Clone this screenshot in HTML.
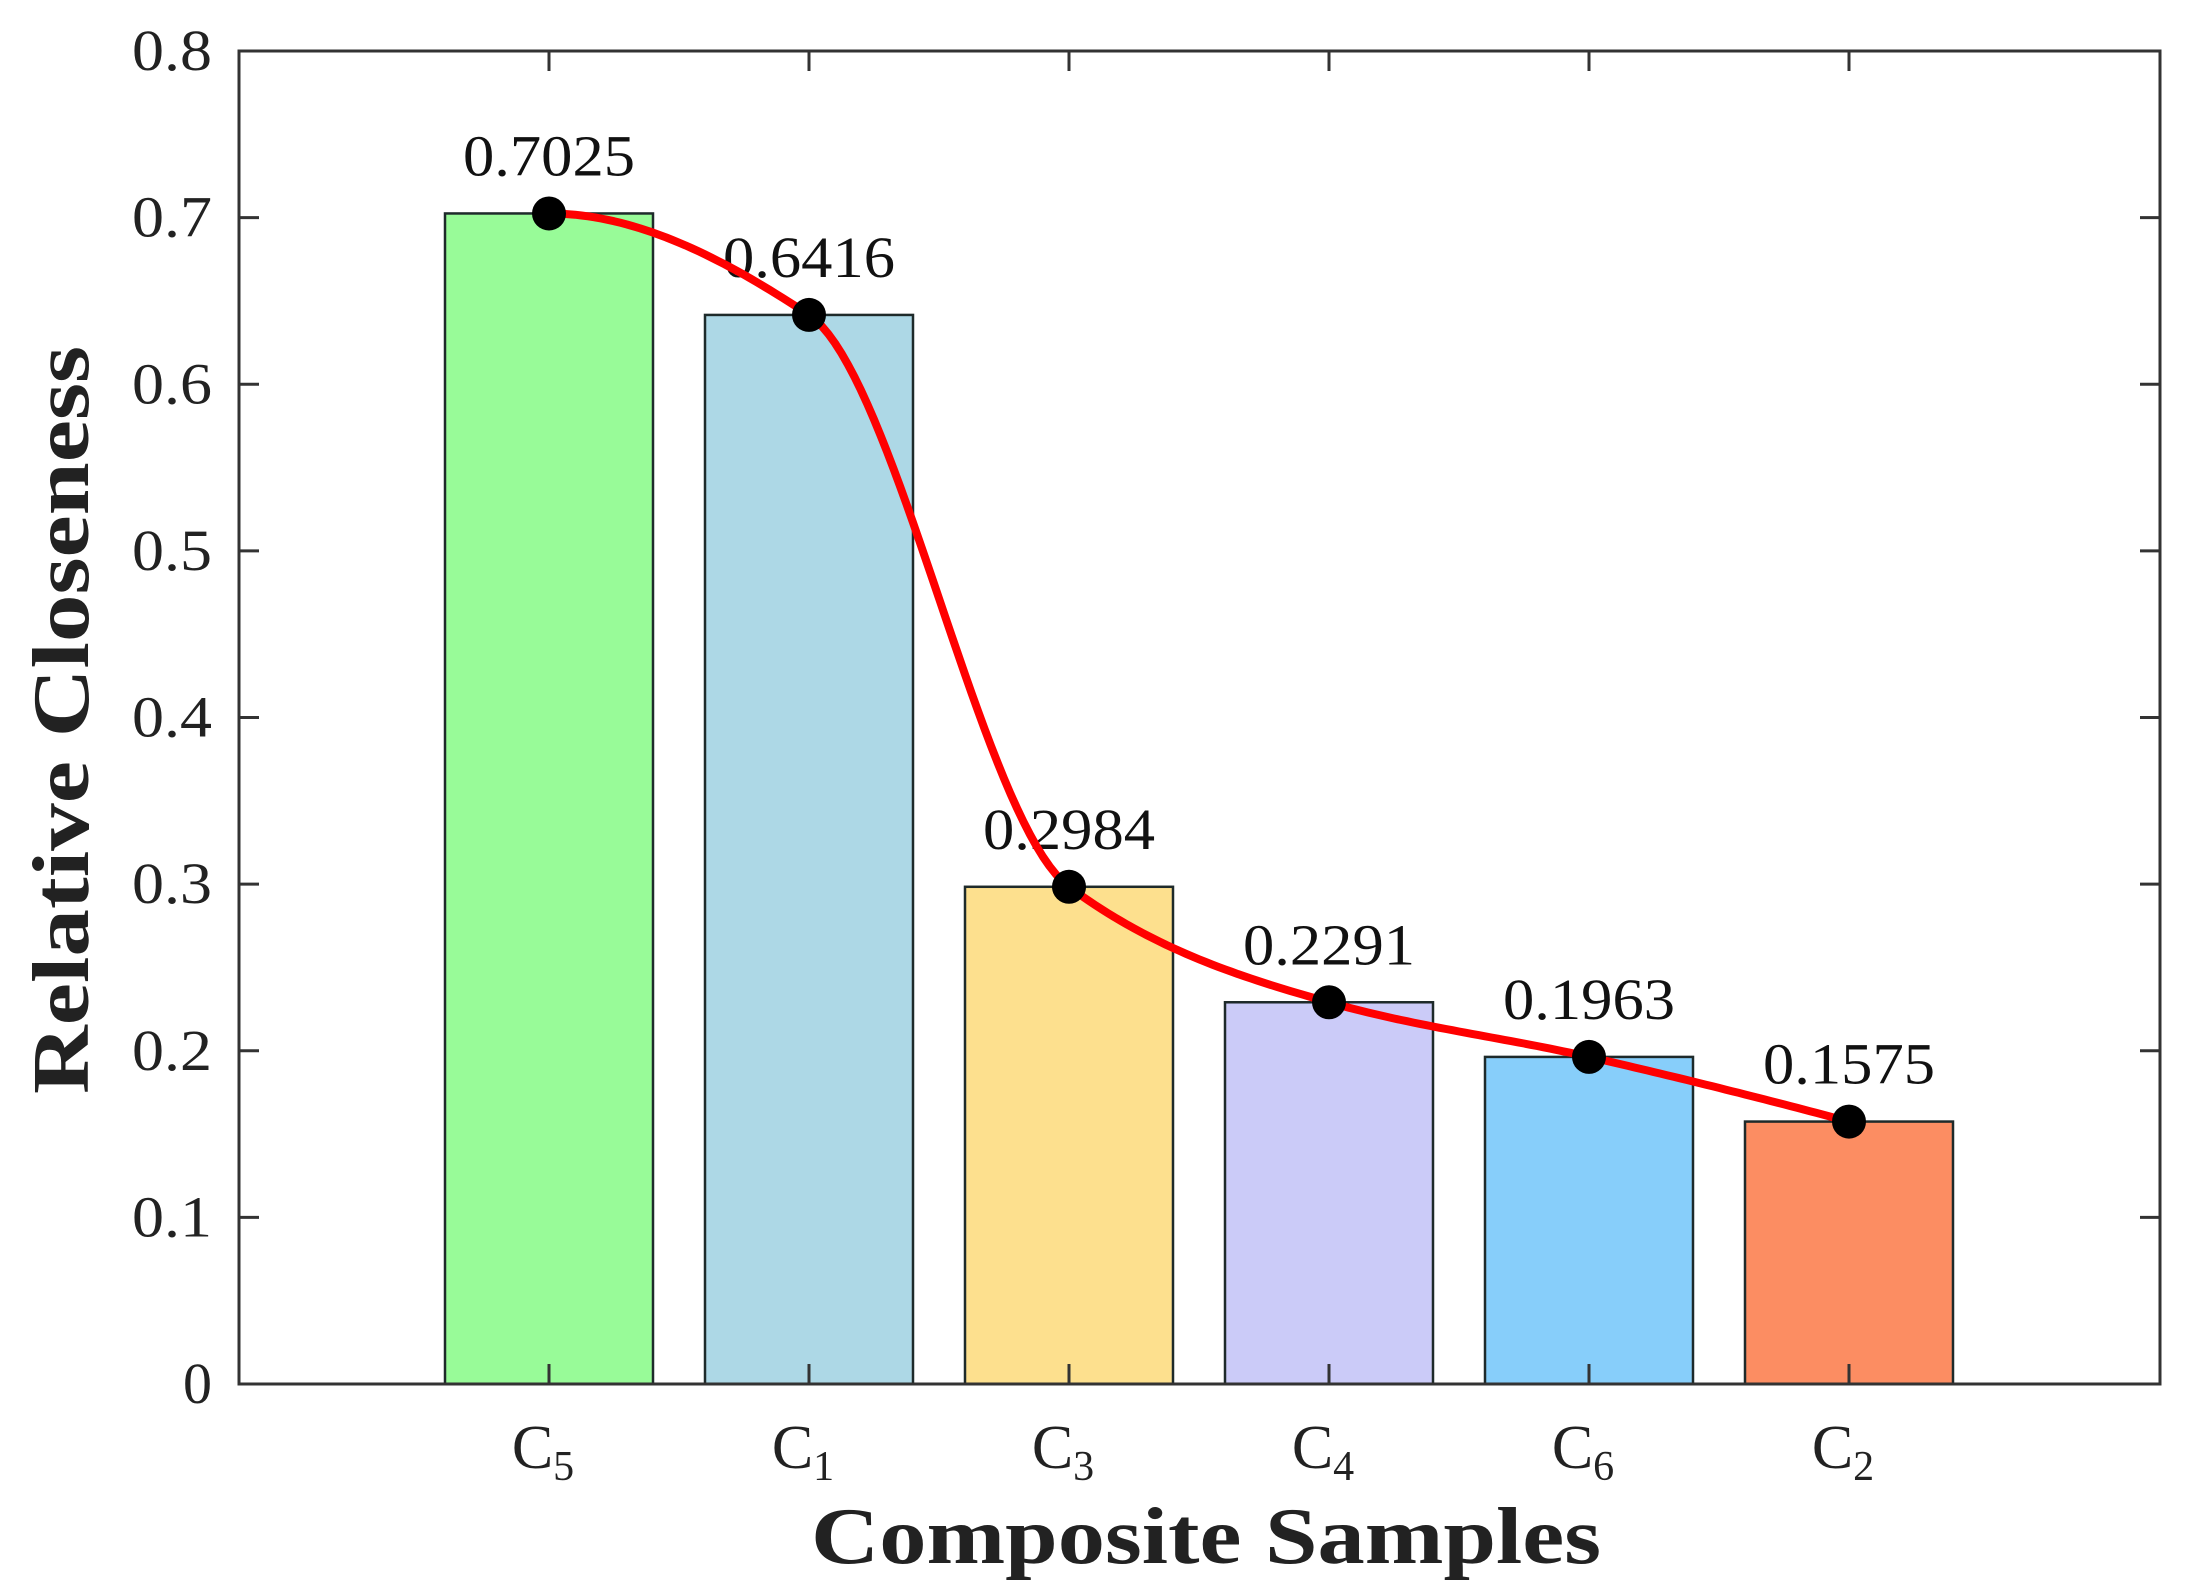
<!DOCTYPE html>
<html><head><meta charset="utf-8"><style>
html,body{margin:0;padding:0;background:#fff;}
svg{display:block;font-family:"Liberation Serif","DejaVu Serif",serif;}
</style></head><body>
<svg id="chart" width="2201" height="1588" viewBox="0 0 2201 1588" xmlns="http://www.w3.org/2000/svg">
<rect x="0" y="0" width="2201" height="1588" fill="#fff"/>
<g id="bars"></g>
<g id="curve"></g>
<g id="labels"></g>
<g id="axes"></g>
<text x="62" y="720" transform="rotate(-90 62 720)" text-anchor="middle" dominant-baseline="central" font-size="80" font-weight="bold" fill="#222" textLength="748" lengthAdjust="spacingAndGlyphs">Relative Closeness</text>
<text x="1206" y="1563" text-anchor="middle" font-size="80" font-weight="bold" fill="#222" textLength="790" lengthAdjust="spacingAndGlyphs">Composite Samples</text>
</svg>
<script>
const categories = ["5","1","3","4","6","2"];
const values = [0.7025, 0.6416, 0.2984, 0.2291, 0.1963, 0.1575];
const valueLabels = ["0.7025","0.6416","0.2984","0.2291","0.1963","0.1575"];
const barColors = ["#98fb98","#add8e6","#fde08e","#cbcbf8","#87cefa","#fc8d62"];
const yTicks = [0,0.1,0.2,0.3,0.4,0.5,0.6,0.7,0.8];
const yTickLabels = ["0","0.1","0.2","0.3","0.4","0.5","0.6","0.7","0.8"];

const NS="http://www.w3.org/2000/svg";
const L=239,R=2160,T=51,B=1384;
function yScale(v){return B-(v/0.8)*(B-T);}
function xScale(i){return 549+i*260;}
const barW=208;
function mk(tag,attrs,parent){const e=document.createElementNS(NS,tag);for(const k in attrs)e.setAttribute(k,attrs[k]);parent.appendChild(e);return e;}

const gb=document.getElementById('bars');
values.forEach((v,i)=>{
  const r=mk('rect',{x:xScale(i)-barW/2,y:yScale(v),width:barW,height:yScale(0)-yScale(v),fill:barColors[i],stroke:'#1e2a2a','stroke-width':2.5},gb);
  
  
});

const n=values.length;
const h=[],d=[];
for(let i=0;i<n-1;i++){h.push(1);d.push(values[i+1]-values[i]);}
const m=new Array(n).fill(0);
for(let i=1;i<n-1;i++){
  if(d[i-1]*d[i]<=0)m[i]=0;
  else{const w1=2*h[i]+h[i-1],w2=h[i]+2*h[i-1];m[i]=(w1+w2)/(w1/d[i-1]+w2/d[i]);}
}
function endSlope(h0,h1,d0,d1){let s=((2*h0+h1)*d0-h0*d1)/(h0+h1);if(s*d0<=0)s=0;else if(d0*d1<=0&&Math.abs(s)>Math.abs(3*d0))s=3*d0;return s;}
m[0]=endSlope(h[0],h[1],d[0],d[1]);
m[n-1]=endSlope(h[n-2],h[n-3],d[n-2],d[n-3]);
let pts=[];
for(let i=0;i<n-1;i++){
  for(let s=0;s<=40;s++){
    const t=s/40;
    const h00=2*t*t*t-3*t*t+1,h10=t*t*t-2*t*t+t,h01=-2*t*t*t+3*t*t,h11=t*t*t-t*t;
    const v=h00*values[i]+h10*m[i]+h01*values[i+1]+h11*m[i+1];
    pts.push((xScale(i+t)).toFixed(1)+','+yScale(v).toFixed(1));
  }
}
const gc=document.getElementById('curve');
const pl=mk('polyline',{points:pts.join(' '),fill:'none',stroke:'#ff0000','stroke-width':8,'stroke-linejoin':'round'},gc);



const gl=document.getElementById('labels');
values.forEach((v,i)=>{
  const t=mk('text',{x:xScale(i),y:yScale(v)-38,'text-anchor':'middle','font-size':58,fill:'#111',textLength:172,lengthAdjust:'spacingAndGlyphs'},gl);
  t.textContent=valueLabels[i];
  
  
});
gl.parentNode.insertBefore(gl,gc);
values.forEach((v,i)=>{
  const c=mk('circle',{cx:xScale(i),cy:yScale(v),r:17,fill:'#000'},gc);
  
  
});

const ga=document.getElementById('axes');
const box=mk('rect',{x:L,y:T,width:R-L,height:B-T,fill:'none',stroke:'#333','stroke-width':3},ga);


yTicks.forEach((v,i)=>{
  const y=yScale(v);
  if(i>0&&i<yTicks.length-1){
    mk('line',{x1:L,y1:y,x2:L+20,y2:y,stroke:'#333','stroke-width':3},ga);
    mk('line',{x1:R,y1:y,x2:R-20,y2:y,stroke:'#333','stroke-width':3},ga);
  }
  const attrs={x:L-27,y:y+19,'text-anchor':'end','font-size':58,fill:'#222'};
  if(yTickLabels[i].length>1){attrs.textLength=80;attrs.lengthAdjust='spacingAndGlyphs';}
  const t=mk('text',attrs,ga);
  t.textContent=yTickLabels[i];
  
  
});
categories.forEach((c,i)=>{
  const x=xScale(i);
  mk('line',{x1:x,y1:B,x2:x,y2:B-20,stroke:'#333','stroke-width':3},ga);
  mk('line',{x1:x,y1:T,x2:x,y2:T+20,stroke:'#333','stroke-width':3},ga);
  const t=mk('text',{x:x-6,y:1468,'text-anchor':'middle','font-size':62,fill:'#222'},ga);
  t.textContent='C';
  const s=mk('tspan',{'font-size':42,dy:12},t);
  s.textContent=c;
  
  
});
</script>
</body></html>
